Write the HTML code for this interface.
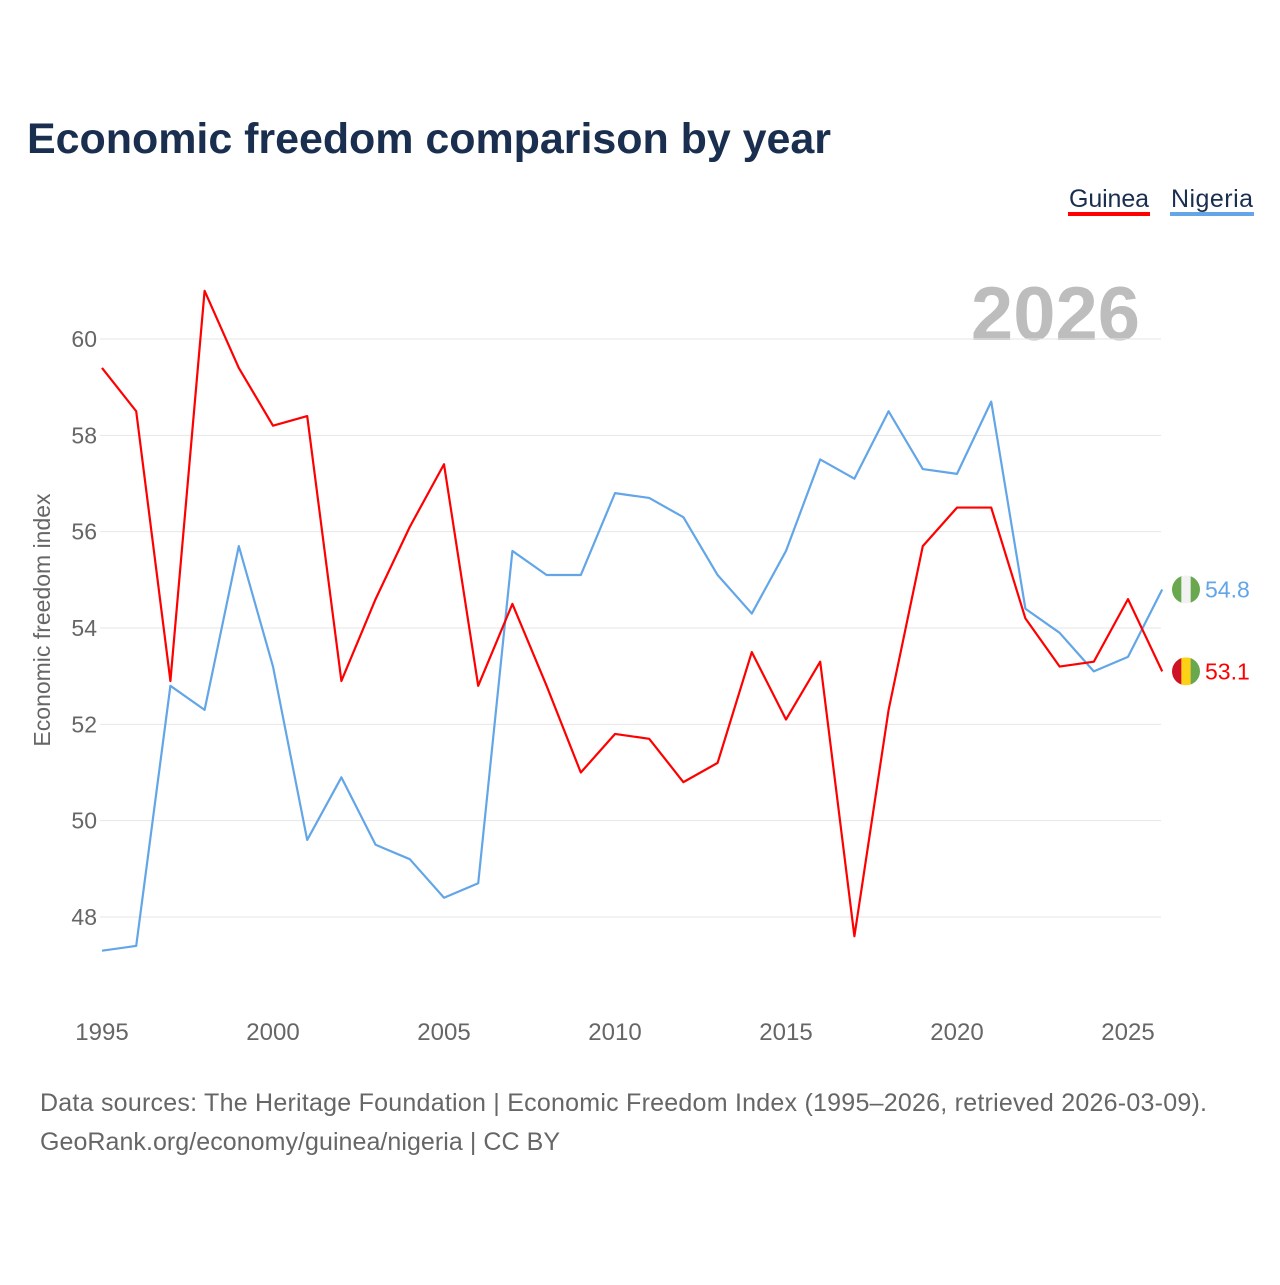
<!DOCTYPE html>
<html><head><meta charset="utf-8"><style>
body{margin:0;background:#fff;font-family:"Liberation Sans",sans-serif;}
svg text{font-family:"Liberation Sans",sans-serif;}
</style></head><body>
<svg width="1280" height="1280" viewBox="0 0 1280 1280" xmlns="http://www.w3.org/2000/svg">
<text x="27" y="153" font-size="43" font-weight="bold" fill="#1a2e4f" textLength="804">Economic freedom comparison by year</text>
<g>
<text x="1069" y="207" font-size="25" fill="#1a2e4f" textLength="80">Guinea</text>
<rect x="1068" y="212" width="82" height="4" fill="#ff0000"/>
<text x="1171" y="207" font-size="25" fill="#1a2e4f" textLength="82">Nigeria</text>
<rect x="1170" y="212" width="84" height="4" fill="#62a6e8"/>
</g>
<text x="1140" y="340" font-size="76" font-weight="bold" fill="#bdbdbd" text-anchor="end">2026</text>
<text transform="translate(50,620) rotate(-90)" font-size="23" fill="#666" text-anchor="middle">Economic freedom index</text>
<g id="grid"></g><g id="series"></g><g id="labels"></g>
<text x="40" y="1111" font-size="25" fill="#666" textLength="1167">Data sources: The Heritage Foundation | Economic Freedom Index (1995–2026, retrieved 2026-03-09).</text>
<text x="40" y="1150" font-size="25" fill="#666" textLength="520">GeoRank.org/economy/guinea/nigeria | CC BY</text>
</svg>
<script>
const years=[1995,1996,1997,1998,1999,2000,2001,2002,2003,2004,2005,2006,2007,2008,2009,2010,2011,2012,2013,2014,2015,2016,2017,2018,2019,2020,2021,2022,2023,2024,2025,2026];
const guinea=[59.4,58.5,52.9,61.0,59.4,58.2,58.4,52.9,54.6,56.1,57.4,52.8,54.5,52.8,51.0,51.8,51.7,50.8,51.2,53.5,52.1,53.3,47.6,52.3,55.7,56.5,56.5,54.2,53.2,53.3,54.6,53.1];
const nigeria=[47.3,47.4,52.8,52.3,55.7,53.2,49.6,50.9,49.5,49.2,48.4,48.7,55.6,55.1,55.1,56.8,56.7,56.3,55.1,54.3,55.6,57.5,57.1,58.5,57.3,57.2,58.7,54.4,53.9,53.1,53.4,54.8];
const yTicks=[48,50,52,54,56,58,60];
const xTicks=[1995,2000,2005,2010,2015,2020,2025];
const NS="http://www.w3.org/2000/svg";
const X=y=>102+(y-1995)*(1026/30);
const Y=v=>339+(60-v)*(578/12);
function mk(t,a,p){const e=document.createElementNS(NS,t);for(const k in a)e.setAttribute(k,a[k]);p.appendChild(e);return e;}
const grid=document.getElementById('grid'),ser=document.getElementById('series'),lab=document.getElementById('labels');
yTicks.forEach(v=>{
 const l=mk('line',{x1:100,x2:1161,y1:Y(v),y2:Y(v),stroke:'#e6e6e6','stroke-width':1},grid);
 
 
 const t=mk('text',{x:97,y:Y(v)+8,'font-size':23,fill:'#666','text-anchor':'end'},grid);t.textContent=v;
 
 
});
xTicks.forEach(v=>{
 const t=mk('text',{x:X(v),y:1040,'font-size':24,fill:'#666','text-anchor':'middle'},grid);t.textContent=v;
 
 
});
function line(d,c,name){
 const p=mk('polyline',{points:d.map((v,i)=>X(years[i])+','+Y(v)).join(' '),fill:'none',stroke:c,'stroke-width':2.2,'stroke-linejoin':'round'},ser);
 
 
}
line(nigeria,'#62a6e8','nigeria-line');
line(guinea,'#ff0000','guinea-line');
function flag(v,cols,txt,c,name){
 const cx=1186,cy=Y(v),g=mk('g',{},lab);
 
 
 const id='clip'+name;const cp=mk('clipPath',{id:id},g);mk('circle',{cx:cx,cy:cy,r:14},cp);
 cols.forEach((col,i)=>mk('rect',{x:cx-14+i*28/3,y:cy-14,width:28/3+0.5,height:28,fill:col,'clip-path':'url(#'+id+')'},g));
 const t=mk('text',{x:1205,y:cy+8,'font-size':23,fill:c},g);t.textContent=txt;
}
flag(nigeria[nigeria.length-1],['#6aa84f','#f2f2f2','#6aa84f'],nigeria[nigeria.length-1].toFixed(1),'#62a6e8','nigeria-end-label');
flag(guinea[guinea.length-1],['#ce1126','#fcd116','#6aa84f'],guinea[guinea.length-1].toFixed(1),'#ff0000','guinea-end-label');
</script>
</body></html>
